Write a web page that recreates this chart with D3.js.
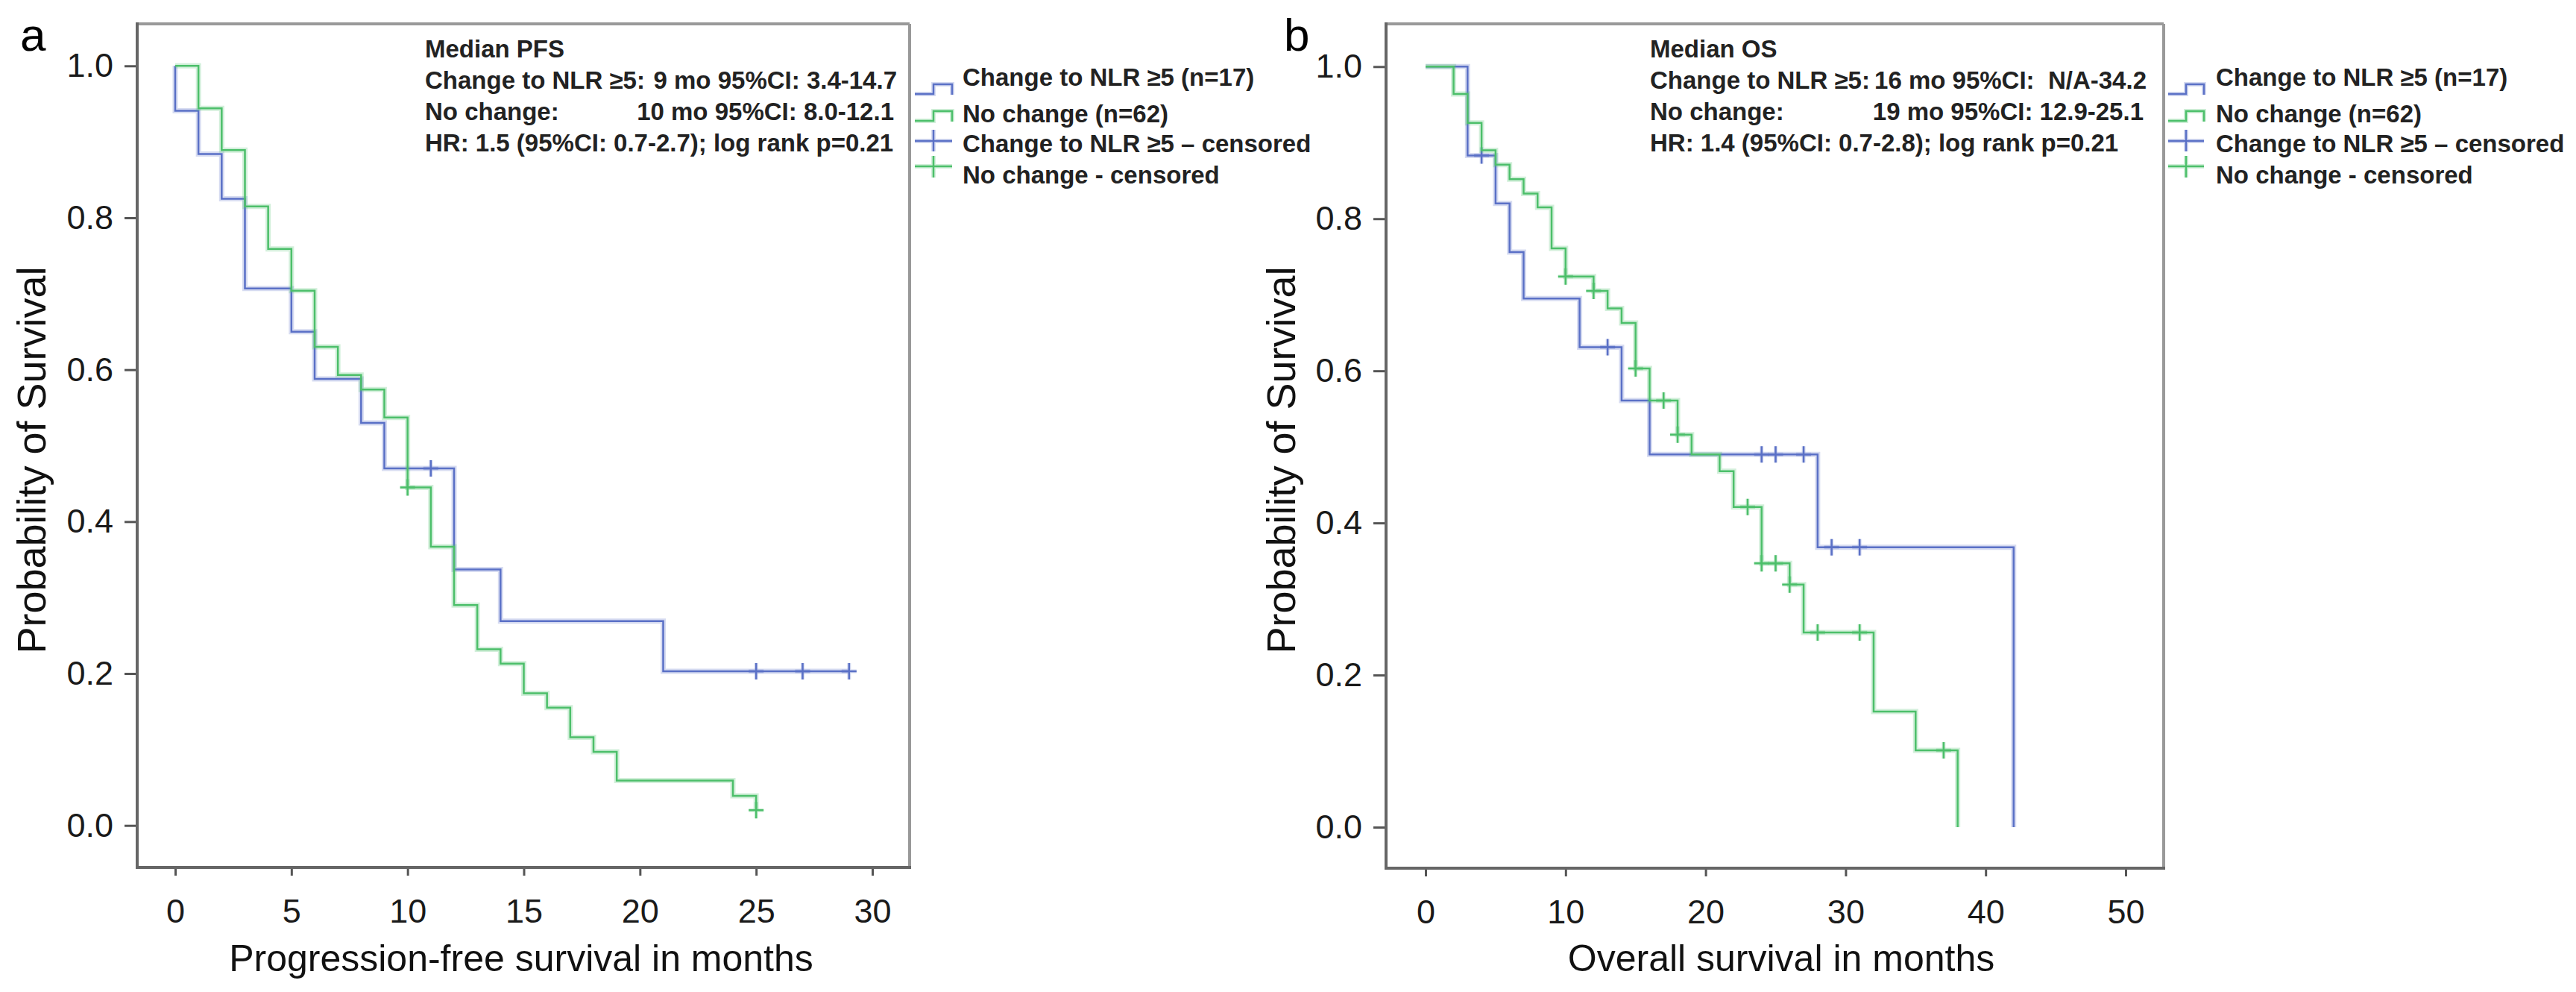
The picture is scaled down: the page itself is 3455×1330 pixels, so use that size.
<!DOCTYPE html>
<html>
<head>
<meta charset="utf-8">
<script src="https://cdn.jsdelivr.net/npm/d3@7"></script>
<style>
  html, body { margin: 0; padding: 0; background: #fff; }
  text { white-space: pre; }
</style>
</head>
<body>
<div id="chart"></div>
<script>
// Kaplan-Meier curves (time in months, survival probability)
const pfsChangeTimes = [0, 0, 1, 2, 3, 5, 6, 8, 9, 12, 14, 21, 29];
const pfsChangeSurv = [1.0, 0.941, 0.884, 0.825, 0.707, 0.650, 0.588, 0.530, 0.470, 0.337, 0.269, 0.203, 0.203];
const pfsChangeCensor = [11, 25, 27, 29];

const pfsNoChangeTimes = [0, 1, 2, 3, 4, 5, 6, 7, 8, 9, 10, 11, 12, 13, 14, 15, 16, 17, 18, 19, 24, 25];
const pfsNoChangeSurv = [1.0, 0.944, 0.889, 0.815, 0.759, 0.704, 0.630, 0.593, 0.574, 0.537, 0.445, 0.367, 0.290, 0.232, 0.213, 0.174, 0.155, 0.116, 0.097, 0.059, 0.039, 0.020];
const pfsNoChangeCensor = [10, 25];

const osChangeTimes = [0, 3, 5, 6, 7, 11, 14, 16, 28, 42];
const osChangeSurv = [1.0, 0.883, 0.820, 0.756, 0.695, 0.631, 0.561, 0.490, 0.368, 0];
const osChangeCensor = [4, 13, 24, 25, 27, 29, 31];

const osNoChangeTimes = [0, 2, 3, 4, 5, 6, 7, 8, 9, 10, 12, 13, 14, 15, 16, 18, 19, 21, 22, 24, 26, 27, 32, 35, 38];
const osNoChangeSurv = [1.0, 0.964, 0.926, 0.890, 0.871, 0.852, 0.833, 0.815, 0.761, 0.724, 0.705, 0.682, 0.663, 0.603, 0.561, 0.516, 0.490, 0.468, 0.421, 0.347, 0.319, 0.256, 0.152, 0.101, 0];
const osNoChangeCensor = [10, 12, 15, 17, 18, 23, 24, 25, 26, 28, 31, 37];

const yTicks = [0, 0.2, 0.4, 0.6, 0.8, 1.0];
const pfsTicks = [0, 5, 10, 15, 20, 25, 30];
const osTicks = [0, 10, 20, 30, 40, 50];

const legendLabels = ['Change to NLR \u22655 (n=17)', 'No change (n=62)', 'Change to NLR \u22655 \u2013 censored', 'No change - censored'];

const pfsStats = {
    title: 'Median PFS',
    row1: ['Change to NLR \u22655:', '9 mo 95%CI: 3.4-14.7'],
    row2: ['No change:', '10 mo 95%CI: 8.0-12.1'],
    row3: 'HR: 1.5 (95%CI: 0.7-2.7); log rank p=0.21'
};
const osStats = {
    title: 'Median OS',
    row1: ['Change to NLR \u22655:', '16 mo 95%CI:  N/A-34.2'],
    row2: ['No change:', '19 mo 95%CI: 12.9-25.1'],
    row3: 'HR: 1.4 (95%CI: 0.7-2.8); log rank p=0.21'
};

const width = 3455, height = 1330;
const blue = '#5a70c6', green = '#4cbf6a';
const font = '"Liberation Sans", Arial, Helvetica, sans-serif';

const svg = d3.select('#chart')
    .append('svg')
    .attr('width', width)
    .attr('height', height)
    .style('background', '#fff');

const toPoints = (times, surv) => d3.zip(times, surv).map(([t, s]) => ({ t, s }));

// survival value at time t (step function, after the drop)
const survAt = (times, surv, t) => {
    let idx = 0;
    times.forEach((v, i) => { if (v <= t) idx = i; });
    return surv[idx];
};

const drawPanel = (p) => {
    const g = svg.append('g');
    const x = d3.scaleLinear().domain([p.xTicks[0], p.xTicks[p.xTicks.length - 1]]).range(p.xRange);
    const y = d3.scaleLinear().domain([0, 1]).range(p.yRange);
    const f = p.frame;

    // axes (ticks + labels); the frame is drawn separately
    const yAxis = g.append('g')
        .attr('transform', `translate(${f.left},0)`)
        .call(d3.axisLeft(y).tickValues(yTicks).tickFormat(d3.format('.1f')).tickSize(17).tickPadding(15));
    const xAxis = g.append('g')
        .attr('transform', `translate(0,${f.bottom})`)
        .call(d3.axisBottom(x).tickValues(p.xTicks).tickSize(11).tickPadding(31));
    [yAxis, xAxis].forEach(a => {
        a.select('.domain').remove();
        a.selectAll('line').attr('stroke', '#555').attr('stroke-width', 3);
        a.selectAll('text').attr('font-family', font).attr('font-size', 45).attr('fill', '#1a1a1a');
    });

    // frame
    g.append('line').attr('x1', f.left).attr('x2', f.right).attr('y1', f.top).attr('y2', f.top)
        .attr('stroke', '#999').attr('stroke-width', 4);
    g.append('line').attr('x1', f.right).attr('x2', f.right).attr('y1', f.top).attr('y2', f.bottom)
        .attr('stroke', '#999').attr('stroke-width', 4);
    g.append('line').attr('x1', f.left).attr('x2', f.left).attr('y1', f.top - 2).attr('y2', f.bottom + 2)
        .attr('stroke', '#666').attr('stroke-width', 4);
    g.append('line').attr('x1', f.left).attr('x2', f.right + 2).attr('y1', f.bottom).attr('y2', f.bottom)
        .attr('stroke', '#666').attr('stroke-width', 4);

    const line = d3.line().x(d => x(d.t)).y(d => y(d.s)).curve(d3.curveStepAfter);

    p.series.forEach(s => {
        const pts = toPoints(s.times, s.surv);
        g.append('path').datum(pts).attr('d', line)
            .attr('fill', 'none').attr('stroke', s.color).attr('stroke-width', 7).attr('stroke-opacity', 0.25);
        g.append('path').datum(pts).attr('d', line)
            .attr('fill', 'none').attr('stroke', s.color).attr('stroke-width', 2.5);
        const marks = g.selectAll(null).data(s.censor).enter().append('g')
            .attr('transform', t => `translate(${x(t)},${y(survAt(s.times, s.surv, t))})`);
        marks.append('path').attr('d', 'M-10,0H10M0,-11V11')
            .attr('stroke', s.color).attr('stroke-width', 5).attr('stroke-opacity', 0.25);
        marks.append('path').attr('d', 'M-10,0H10M0,-11V11')
            .attr('stroke', s.color).attr('stroke-width', 2.5);
    });

    // axis titles and panel letter
    g.append('text').attr('x', p.xTitleX).attr('y', 1302).attr('text-anchor', 'middle')
        .attr('font-family', font).attr('font-size', 50).attr('fill', '#111').text(p.xTitle);
    g.append('text').attr('transform', `translate(${p.yTitleX},617) rotate(-90)`).attr('text-anchor', 'middle')
        .attr('font-family', font).attr('font-size', 54).attr('fill', '#111').text('Probability of Survival');
    g.append('text').attr('x', p.letterX).attr('y', 68)
        .attr('font-family', font).attr('font-size', 62).attr('fill', '#000').text(p.letter);

    // statistics box
    const st = p.stats;
    const bold = sel => sel.attr('font-family', font).attr('font-size', 33).attr('font-weight', 'bold').attr('fill', '#222');
    bold(g.append('text').attr('x', p.statsX).attr('y', 77).text(st.title));
    bold(g.append('text').attr('x', p.statsX).attr('y', 119).text(st.row1[0]));
    bold(g.append('text').attr('x', p.statsEnd).attr('y', 119).attr('text-anchor', 'end').text(st.row1[1]));
    bold(g.append('text').attr('x', p.statsX).attr('y', 161).text(st.row2[0]));
    bold(g.append('text').attr('x', p.statsEnd - 4).attr('y', 161).attr('text-anchor', 'end').text(st.row2[1]));
    bold(g.append('text').attr('x', p.statsX).attr('y', 203).text(st.row3));

    // legend
    const lx = p.legendX, lw = p.legendW, mid = lx + lw / 2;
    const stepPath = (low, high) => `M${lx},${low}H${mid}V${high}H${lx + lw}V${low + 1}`;
    const legendColors = [blue, green, blue, green];
    const legendY = [115, 164, 204, 246];
    const symbols = [
        stepPath(126, 113),
        stepPath(162, 149),
        `M${lx},189H${lx + lw}M${mid},174V203`,
        `M${lx},223H${lx + lw}M${mid},209V238`
    ];
    symbols.forEach((d, i) => {
        g.append('path').attr('d', d).attr('fill', 'none').attr('stroke', legendColors[i])
            .attr('stroke-width', 6).attr('stroke-opacity', 0.25);
        g.append('path').attr('d', d).attr('fill', 'none').attr('stroke', legendColors[i])
            .attr('stroke-width', 2.5);
    });
    legendLabels.forEach((label, i) => {
        bold(g.append('text').attr('x', p.legendTextX).attr('y', legendY[i]).text(label));
    });
};

drawPanel({
    letter: 'a', letterX: 27,
    frame: { left: 184, right: 1220, top: 32, bottom: 1163 },
    xTicks: pfsTicks, xRange: [235, 1170], yRange: [1106.7, 88.3],
    xTitle: 'Progression-free survival in months', xTitleX: 699, yTitleX: 61,
    stats: pfsStats, statsX: 570, statsEnd: 1203,
    legendX: 1227, legendW: 50, legendTextX: 1291,
    series: [
        { times: pfsChangeTimes, surv: pfsChangeSurv, censor: pfsChangeCensor, color: blue },
        { times: pfsNoChangeTimes, surv: pfsNoChangeSurv, censor: pfsNoChangeCensor, color: green }
    ]
});

drawPanel({
    letter: 'b', letterX: 1722,
    frame: { left: 1859, right: 2902, top: 32, bottom: 1164 },
    xTicks: osTicks, xRange: [1912, 2851], yRange: [1109, 89.3],
    xTitle: 'Overall survival in months', xTitleX: 2389, yTitleX: 1737,
    stats: osStats, statsX: 2213, statsEnd: 2879,
    legendX: 2908, legendW: 48, legendTextX: 2972,
    series: [
        { times: osChangeTimes, surv: osChangeSurv, censor: osChangeCensor, color: blue },
        { times: osNoChangeTimes, surv: osNoChangeSurv, censor: osNoChangeCensor, color: green }
    ]
});
</script>
</body>
</html>
